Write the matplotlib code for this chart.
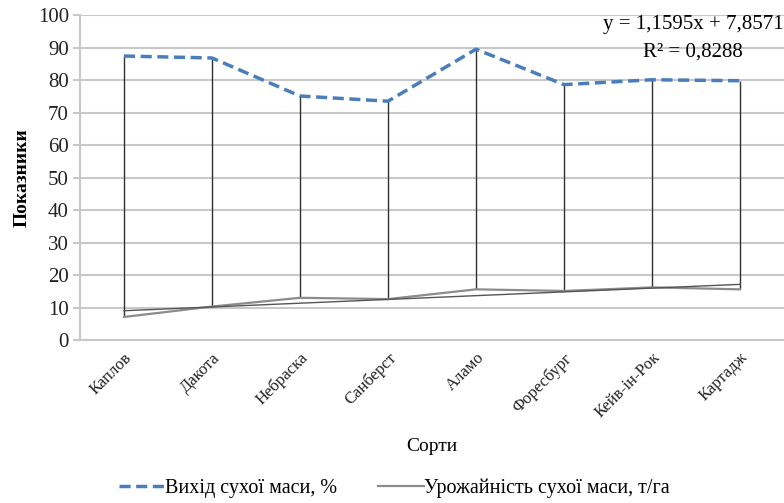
import numpy as np
import matplotlib
matplotlib.use("Agg")
import matplotlib.pyplot as plt
from matplotlib.lines import Line2D

plt.rcParams['font.family'] = ['Liberation Serif', 'DejaVu Serif']

sorts = ["Каплов", "Дакота", "Небраска", "Санберст", "Аламо",
         "Форесбург", "Кейв-ін-Рок", "Картадж"]
dry_yield_pct = [87.4, 86.8, 75.1, 73.5, 89.5, 78.6, 80.1, 79.8]
dry_mass_t = [7.1, 10.3, 13.0, 12.6, 15.6, 15.1, 16.2, 15.6]
trend_slope = 1.1595
trend_icept = 7.8571
trend_r2 = "0,8288"

fig = plt.figure(figsize=(7.84, 5.03), dpi=100)
ax = fig.add_axes([0.102, 0.324, 0.898, 0.646])

x = np.arange(1, len(sorts) + 1)

ax.vlines(x, dry_mass_t, dry_yield_pct, color="#303030", lw=1.0, zorder=2)
ax.plot(x, dry_yield_pct, color="#4a7ebb", lw=2.5, ls=(0, (3.2, 1.6)), zorder=4)
ax.plot(x, dry_mass_t, color="#8c8c8c", lw=1.6, zorder=3)
trend = trend_slope * x + trend_icept
ax.plot(x, trend, color="#555555", lw=1.0, zorder=3)

ax.set_xlim(0.5, len(sorts) + 0.5)
ax.set_ylim(0, 100)
ax.set_yticks(range(0, 101, 10))
ax.grid(axis="y", color="#c8c8c8", lw=1.5)
ax.set_axisbelow(True)
for s in ["top", "right"]:
    ax.spines[s].set_visible(False)
for s in ["bottom", "left"]:
    ax.spines[s].set_color("#c8c8c8")
    ax.spines[s].set_linewidth(1.5)
ax.tick_params(axis="y", length=5, color="#c8c8c8", width=1.5, labelsize=15, pad=3,
               labelcolor="#222222")
ax.tick_params(axis="x", length=0, pad=7)
ax.set_xticks(x)
ax.set_xticklabels(sorts, rotation=45, ha="right", rotation_mode="anchor", fontsize=12,
                   color="#222222")

ax.set_ylabel("Показники", fontsize=14, fontweight="bold", labelpad=5)
ax.set_xlabel("Сорти", fontsize=14, labelpad=12)

ax.text(7.47, 97.0, "y = 1,1595x + 7,8571", ha="center", va="center", fontsize=15)
ax.text(7.47, 88.6, "R² = " + trend_r2, ha="center", va="center", fontsize=15)

handles = [Line2D([], [], color="#4a7ebb", lw=2.5, ls=(0, (3.2, 1.6))),
           Line2D([], [], color="#8c8c8c", lw=1.6)]
fig.legend(handles, ["Вихід сухої маси, %", "Урожайність сухої маси, т/га"],
           loc="center", bbox_to_anchor=(0.503, 0.03), ncol=2, frameon=False,
           fontsize=14.5, handlelength=2.3, handletextpad=0.0, columnspacing=2.0)

fig.savefig("out.png", dpi=100)
